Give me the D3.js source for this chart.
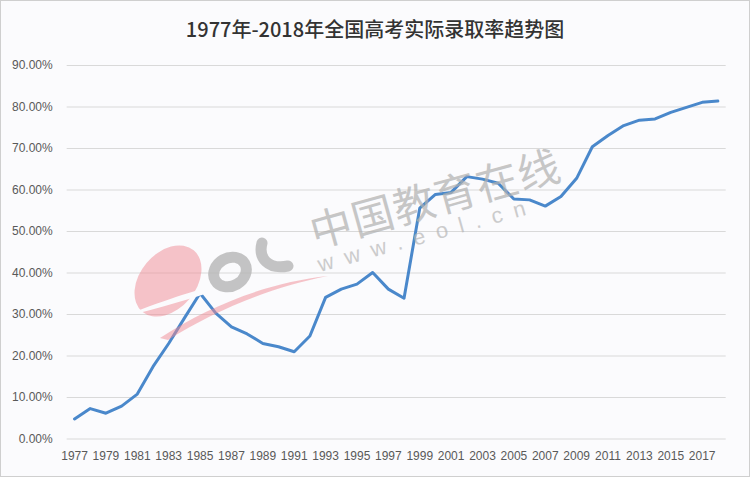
<!DOCTYPE html>
<html><head><meta charset="utf-8">
<script src="https://cdn.jsdelivr.net/npm/d3@7/dist/d3.min.js"></script>
<style>body{margin:0;background:#fff}svg{display:block}</style>
</head><body><svg id="c" width="750" height="477"></svg>
<script>
const title = "1977年-2018年全国高考实际录取率趋势图";
const years = d3.range(1977, 2019);
const rates = [4.7,7.2,6.1,7.8,10.7,17.3,22.9,29.0,35.0,30.2,26.9,25.2,22.9,22.1,20.9,24.7,34.0,36.0,37.2,40.0,36.0,33.8,55.5,58.8,59.3,63.1,62.5,61.5,57.7,57.5,56.0,58.3,62.7,70.3,73.0,75.4,76.7,77.0,78.6,79.8,81.0,81.3];
const yTicks = [0,10,20,30,40,50,60,70,80,90];
const xTickLabels = years.filter((y,i)=>i%2===0);

const svg = d3.select("#c");
svg.append("rect").attr("x",0.5).attr("y",0.5).attr("width",749).attr("height",476)
  .attr("fill","#fbfbfd").attr("stroke","#cfcfcf");

svg.append("text").attr("x",375).attr("y",37).attr("text-anchor","middle")
  .attr("font-family","'Noto Sans CJK SC','Noto Sans',sans-serif").attr("font-size",20).attr("font-weight",500)
  .attr("fill","#333333").text(title);

const x = d3.scaleBand().domain(years).range([66.7,725.7]);
const y = d3.scaleLinear().domain([0,90]).range([438.5,65]);

const gy = svg.append("g").attr("transform","translate(66.7,0)")
  .call(d3.axisLeft(y).tickValues(yTicks).tickFormat(d=>d3.format(".2f")(d)+"%").tickSize(-659).tickPadding(14));
gy.select(".domain").remove();
gy.selectAll(".tick line").attr("stroke","#d9d9d9").attr("stroke-width",1);
gy.selectAll(".tick text").attr("font-family","'Liberation Sans',Arial,sans-serif").attr("font-size",12).attr("fill","#595959");

const gx = svg.append("g").attr("transform","translate(0,438.5)")
  .call(d3.axisBottom(x).tickValues(xTickLabels).tickSize(0).tickPadding(13));
gx.select(".domain").remove();
gx.selectAll(".tick text").attr("font-family","'Liberation Sans',Arial,sans-serif").attr("font-size",12).attr("fill","#595959");

const line = d3.line().x((d,i)=>x(years[i])+x.bandwidth()/2).y(d=>y(d));
svg.append("path").datum(rates).attr("d",line).attr("fill","none")
  .attr("stroke","#4a88cb").attr("stroke-width",3).attr("stroke-linejoin","round").attr("stroke-linecap","round");

// watermark
const wm = svg.append("g").attr("pointer-events","none");
wm.append("ellipse").attr("cx",0).attr("cy",0).attr("rx",28).attr("ry",40)
  .attr("transform","translate(168,281) rotate(40)").attr("fill","#f08a93").attr("opacity",0.5);
wm.append("path").attr("d","M135,312 C175,296 205,288 228,282 L230,286 C205,294 175,304 135,314 Z").attr("fill","#fbfbfd");
wm.append("path").attr("d","M160,338 C210,305 270,282 328,276 C275,286 215,310 168,340 Z").attr("fill","#f08a93").attr("opacity",0.5);
wm.append("ellipse").attr("cx",230).attr("cy",272).attr("rx",17).attr("ry",14)
  .attr("transform","rotate(-30,230,272)").attr("fill","none").attr("stroke","#b5b5b5").attr("stroke-width",11).attr("opacity",0.8);
wm.append("path").attr("d","M262,243 C258,258 268,270 288,266").attr("fill","none")
  .attr("stroke","#b5b5b5").attr("stroke-width",11).attr("stroke-linecap","round").attr("opacity",0.8);
wm.append("text").attr("transform","translate(315,248) rotate(-15.5)")
  .attr("font-family","'Noto Sans CJK SC',sans-serif").attr("font-size",42).attr("font-weight",400)
  .attr("fill","#b0b0b0").attr("opacity",0.7).attr("letter-spacing",1).text("中国教育在线");
wm.append("text").attr("transform","translate(320,272) rotate(-15.5)")
  .attr("font-family","'Liberation Sans',sans-serif").attr("font-size",22)
  .attr("fill","#b8b8b8").attr("opacity",0.7).attr("letter-spacing",11.5).text("www.eol.cn");
</script></body></html>
